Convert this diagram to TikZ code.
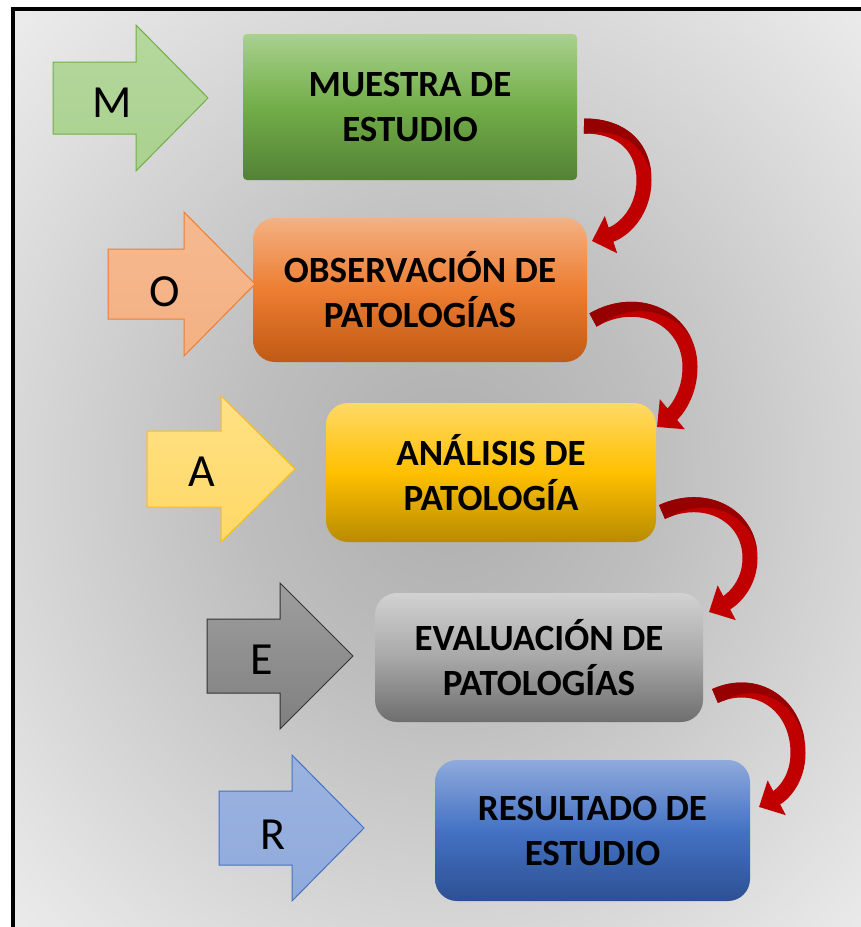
\documentclass[tikz,border=0pt]{standalone}
\usepackage{fontspec}
\setmainfont{Carlito}
\usetikzlibrary{arrows.meta,calc}

\definecolor{bgA}{HTML}{AEAEAE}
\definecolor{bgB}{HTML}{BEBEBE}
\definecolor{bgC}{HTML}{D4D4D4}
\definecolor{bgD}{HTML}{E6E6E6}
\definecolor{bgE}{HTML}{F6F6F6}
\pgfdeclareradialshading{bgrad}{\pgfpoint{0bp}{0bp}}{color(0bp)=(bgA); color(12bp)=(bgB); color(23bp)=(bgC); color(32bp)=(bgD); color(41bp)=(bgE); color(50bp)=(white); color(72bp)=(white)}

\definecolor{gA}{HTML}{A9D18E}\definecolor{gB}{HTML}{72AE48}\definecolor{gC}{HTML}{538135}
\definecolor{oA}{HTML}{F4B183}\definecolor{oB}{HTML}{ED7D31}\definecolor{oC}{HTML}{C05A14}
\definecolor{yA}{HTML}{FFD966}\definecolor{yB}{HTML}{FFC000}\definecolor{yC}{HTML}{B88C00}
\definecolor{kA}{HTML}{D2D2D2}\definecolor{kB}{HTML}{A8A8A8}\definecolor{kC}{HTML}{6E6E6E}
\definecolor{uA}{HTML}{8FAADC}\definecolor{uB}{HTML}{4472C4}\definecolor{uC}{HTML}{2D5093}
\definecolor{redA}{HTML}{C00000}
\definecolor{redD}{HTML}{960000}

\tikzset{
  box/.style={rounded corners=22pt, inner sep=0pt, align=center, text=black,
    font=\bfseries\fontsize{37}{45}\selectfont},
  letter/.style={inner sep=0pt, text=black, font=\fontsize{46}{50}\selectfont},
  redarr/.style={draw=redA, line width=15pt, -{Triangle[length=20pt,width=38pt]}},
  darkpart/.style={draw=redD, line width=15pt},
  blkM/.style={draw=gB, line width=1pt, top color=gA!85!white, bottom color=gA},
  blkO/.style={draw=oB, line width=1pt, top color=oA!90!white, bottom color=oA},
  blkA/.style={draw=yB, line width=1pt, top color=yA!80!white, bottom color=yA},
  blkE/.style={draw=black!80, line width=1pt, top color=black!38, bottom color=black!50},
  blkR/.style={draw=uB, line width=1pt, top color=uA!90!white, bottom color=uA},
}

\newcommand{\blockarrow}[7]{%
  \draw[#1] (#2,{#3-#6}) -- (#4,{#3-#6}) -- (#4,{#3-#7}) -- (#5,#3) -- (#4,{#3+#7})
    -- (#4,{#3+#6}) -- (#2,{#3+#6}) -- cycle;}

\newcommand{\redcurve}[9]{%
  \draw[redarr] (#1) .. controls (#2) and (#3) .. (#4) .. controls (#5) and (#6) .. (#7);
  \begin{scope}
    \clip (#8) .. controls (#2) and (#3) .. (#9) -- ++(60,0) -- ++(0,-160) -- ++(-220,0) |- (#8) -- cycle;
    \draw[darkpart] (#1) .. controls (#2) and (#3) .. (#4);
  \end{scope}}

\begin{document}
\begin{tikzpicture}[x=1pt,y=-1pt]
\useasboundingbox (0,0) rectangle (861,927);
\fill[white] (0,0) rectangle (861,927);
\shade[shading=bgrad] (13,9) rectangle (880,945);
\draw[line width=4pt] (13,9) rectangle (880,945);

% boxes
\node[box, rounded corners=4pt, minimum width=334pt, minimum height=146pt,
  top color=gA, bottom color=gC, middle color=gB] (b1) at (410,107) {MUESTRA DE\\ESTUDIO};
\node[box, minimum width=334pt, minimum height=144pt,
  top color=oA, bottom color=oC, middle color=oB] (b2) at (420,290) {OBSERVACIÓN DE\\PATOLOGÍAS};
\node[box, minimum width=330pt, minimum height=139pt,
  top color=yA, bottom color=yC, middle color=yB] (b3) at (491,472.5) {ANÁLISIS DE\\PATOLOGÍA};
\node[box, minimum width=328pt, minimum height=129pt,
  top color=kA, bottom color=kC, middle color=kB] (b4) at (539,657.5) {EVALUACIÓN DE\\PATOLOGÍAS};
\node[box, minimum width=315pt, minimum height=141pt,
  top color=uA, bottom color=uC, middle color=uB] (b5) at (592.5,830.5) {RESULTADO DE\\ESTUDIO};

% block arrows
\blockarrow{blkM}{53}{98}{136}{208}{36}{73}
\blockarrow{blkO}{108}{284}{184}{255}{35}{72}
\blockarrow{blkA}{147}{469}{221}{295}{38}{73}
\blockarrow{blkE}{207}{656}{280}{353}{37}{73}
\blockarrow{blkR}{219}{828}{292}{364}{37}{73}
\node[letter] (lM) at (112,103) {M};
\node[letter] (lO) at (165,292) {O};
\node[letter] (lA) at (202,472) {A};
\node[letter] (lE) at (262,660) {E};
\node[letter] (lR) at (273,835) {R};

% curved connectors
\coordinate (t1) at (584,126); \coordinate (h1) at (592,241);
\coordinate (t2) at (593,320); \coordinate (h2) at (657,427);
\coordinate (t3) at (662,512); \coordinate (h3) at (709,612);
\coordinate (t4) at (715,696); \coordinate (h4) at (759,807);
\redcurve{t1}{625,126}{644,150}{644,180}{644,210}{625,230}{h1}{585,134}{651,172}
\redcurve{t2}{640,293}{690,320}{690,367}{690,395}{675,412}{h2}{597,327}{696,350}
\redcurve{t3}{705,492}{750,515}{750,558}{750,585}{732,600}{h3}{666,520}{756,548}
\redcurve{t4}{757,677}{798,705}{798,753}{798,780}{782,795}{h4}{719,704}{803,738}
\end{tikzpicture}
\end{document}
